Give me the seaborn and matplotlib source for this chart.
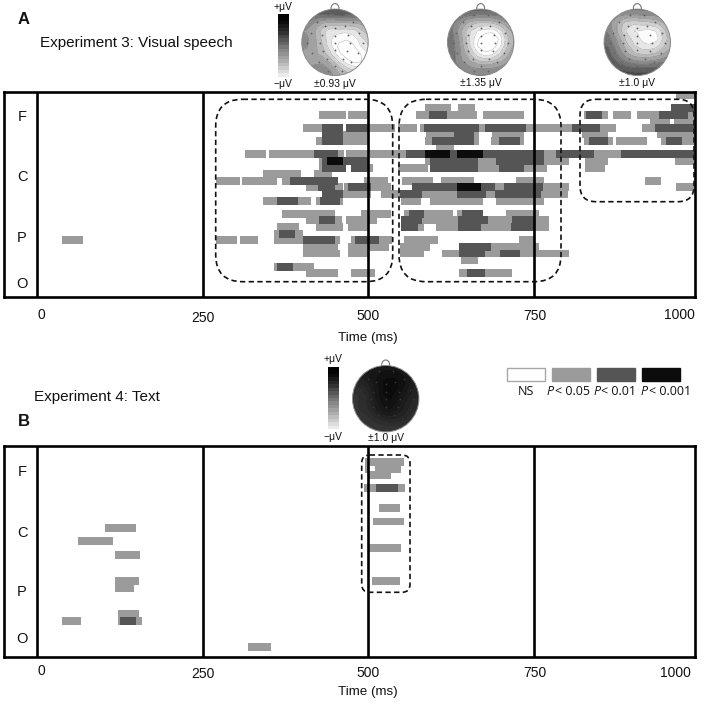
import numpy as np
import matplotlib
matplotlib.use("Agg")
import matplotlib.pyplot as plt
from matplotlib.colors import ListedColormap
from matplotlib.patches import Circle, FancyBboxPatch, Rectangle
import seaborn as sns

# Significant segments per electrode row: (start ms, end ms, significance level)
# Level 1 = P<0.05, 2 = P<0.01, 3 = P<0.001
a_r00 = [(967, 994, 1)]
a_r02 = [(586, 626, 1), (636, 662, 1), (959, 994, 2)]
a_r03 = [(426, 467, 1), (470, 500, 1), (572, 592, 1), (592, 620, 2), (620, 664, 1), (674, 736, 1),
         (826, 830, 1), (830, 853, 2), (853, 863, 1), (870, 897, 1), (907, 940, 1), (940, 984, 2), (984, 994, 1)]
a_r04 = [(926, 956, 1), (962, 994, 1)]
a_r05 = [(401, 429, 1), (429, 463, 2), (465, 500, 2), (500, 540, 1), (547, 574, 1), (578, 584, 1),
         (584, 668, 2), (668, 676, 1), (676, 739, 2), (739, 808, 1), (808, 851, 2), (851, 873, 1),
         (913, 935, 1), (935, 994, 2)]
a_r06 = [(431, 463, 2), (463, 503, 1), (588, 631, 1), (631, 660, 2), (660, 668, 1), (688, 736, 1),
         (824, 863, 1), (936, 994, 1)]
a_r07 = [(421, 431, 1), (431, 463, 2), (463, 503, 1), (586, 596, 1), (596, 660, 2), (660, 668, 1),
         (685, 697, 1), (697, 730, 2), (730, 736, 1), (826, 834, 1), (834, 862, 2), (862, 870, 1),
         (874, 923, 1), (942, 950, 1), (950, 975, 2), (975, 994, 1)]
a_r08 = [(603, 631, 1)]
a_r09 = [(315, 347, 1), (351, 417, 1), (417, 455, 2), (455, 464, 1), (467, 558, 1), (558, 586, 2),
         (586, 624, 3), (624, 634, 2), (634, 674, 3), (674, 767, 2), (767, 784, 1), (784, 841, 2),
         (841, 882, 1), (882, 994, 2)]
a_r10 = [(425, 431, 1), (431, 437, 2), (437, 463, 3), (463, 503, 2), (586, 595, 1), (595, 667, 2),
         (667, 694, 1), (694, 767, 2), (767, 804, 1), (828, 861, 1), (964, 994, 1)]
a_r11 = [(425, 431, 1), (431, 465, 2), (473, 503, 2), (503, 508, 1), (547, 589, 1), (595, 667, 2),
         (667, 697, 1), (697, 736, 2), (736, 770, 1), (828, 858, 1)]
a_r12 = [(343, 398, 1), (419, 447, 1)]
a_r13 = [(271, 305, 1), (309, 363, 1), (370, 383, 1), (383, 453, 2), (493, 531, 1), (552, 599, 1),
         (609, 660, 1), (724, 766, 1), (917, 943, 1)]
a_r14 = [(406, 424, 1), (424, 450, 2), (450, 461, 1), (464, 469, 1), (469, 504, 2), (504, 534, 1),
         (566, 634, 2), (634, 669, 3), (669, 692, 2), (692, 705, 1), (705, 764, 2), (764, 804, 1), (965, 994, 1)]
a_r15 = [(431, 463, 2), (463, 504, 1), (520, 548, 1), (548, 582, 2), (582, 634, 1), (634, 678, 2),
         (678, 692, 1), (692, 762, 2), (762, 801, 1)]
a_r16 = [(343, 361, 1), (361, 395, 2), (395, 415, 1), (421, 428, 1), (428, 457, 2), (457, 463, 1),
         (550, 580, 1), (595, 673, 1), (694, 767, 1)]
a_r18 = [(370, 450, 1), (491, 534, 1), (553, 561, 1), (561, 584, 2), (584, 628, 1), (635, 642, 1),
         (642, 673, 2), (708, 757, 1)]
a_r19 = [(405, 426, 1), (426, 450, 2), (450, 460, 1), (467, 513, 1), (551, 581, 2), (581, 636, 1),
         (636, 682, 2), (682, 717, 1), (717, 750, 2), (750, 773, 1)]
a_r20 = [(361, 396, 1), (423, 463, 1), (469, 500, 1), (551, 576, 2), (576, 584, 1), (603, 636, 1),
         (636, 669, 2), (669, 716, 1), (716, 750, 2), (750, 773, 1)]
a_r21 = [(357, 365, 1), (365, 389, 2), (389, 402, 1)]
a_r22 = [(38, 70, 1), (271, 303, 1), (305, 333, 1), (357, 402, 1), (402, 450, 2), (450, 457, 1),
         (475, 480, 1), (480, 516, 2), (516, 536, 1), (553, 606, 1), (728, 750, 1)]
a_r23 = [(403, 455, 1), (471, 532, 1), (548, 593, 1), (638, 687, 2), (687, 757, 1)]
a_r24 = [(403, 457, 1), (471, 503, 1), (548, 584, 1), (612, 638, 1), (638, 676, 2), (676, 700, 1),
         (700, 730, 2), (730, 804, 1)]
a_r25 = [(640, 666, 1)]
a_r26 = [(357, 363, 1), (363, 387, 2), (387, 417, 1)]
a_r27 = [(405, 453, 1), (473, 509, 1), (638, 650, 1), (650, 676, 2), (676, 718, 1)]
a_row_ids = [0, 2, 3, 4, 5, 6, 7, 8, 9, 10, 11, 12, 13, 14, 15, 16, 18, 19, 20, 21, 22, 23, 24, 25, 26, 27]
a_row_segments = [a_r00, a_r02, a_r03, a_r04, a_r05, a_r06, a_r07, a_r08, a_r09, a_r10, a_r11, a_r12, a_r13,
                  a_r14, a_r15, a_r16, a_r18, a_r19, a_r20, a_r21, a_r22, a_r23, a_r24, a_r25, a_r26, a_r27]

b_row_ids = [2, 3, 4, 6, 9, 11, 12, 14, 15, 16, 20, 21, 25, 26, 30]
b_row_segments = [
    [(496, 553, 1)],
    [(496, 503, 1), (511, 551, 1)],
    [(502, 534, 1)],
    [(494, 512, 1), (512, 547, 2), (547, 556, 1)],
    [(516, 548, 1)],
    [(508, 553, 1)],
    [(102, 151, 1)],
    [(62, 114, 1)],
    [(502, 550, 1)],
    [(118, 156, 1)],
    [(119, 153, 1), (506, 548, 1)],
    [(119, 147, 1)],
    [(122, 153, 1)],
    [(38, 67, 1), (121, 125, 1), (125, 149, 2), (149, 158, 1)],
    [(319, 355, 1)],
]

time_ticks = [0, 250, 500, 750]
tick_labels = ["0", "250", "500", "750", "1000"]
channel_labels = ["F", "C", "P", "O"]
p_labels = ["< 0.05", "< 0.01", "< 0.001"]
level_colors = ["#ffffff", "#9b9b9b", "#555555", "#0c0c0c"]

# Scalp maps, gray value read on a 9x9 grid, top row first
head_1 = [[.30, .30, .30, .30, .30, .30, .30, .30, .30],
          [.42, .48, .55, .50, .45, .45, .50, .55, .58],
          [.60, .62, .72, .88, .90, .86, .84, .72, .62],
          [.58, .58, .74, .90, .92, .84, 1.0, .90, .74],
          [.52, .58, .68, .86, .96, 1.1, 1.0, .90, .80],
          [.58, .62, .68, .80, 1.0, 1.1, 1.1, 1.0, .84],
          [.62, .64, .64, .70, .80, 1.0, 1.1, 1.1, 1.0],
          [.62, .62, .50, .56, .70, .82, .92, 1.0, .92],
          [.55, .55, .50, .50, .60, .65, .72, .74, .74]]
head_2 = [[.35, .35, .35, .35, .35, .35, .35, .35, .35],
          [.42, .48, .54, .60, .62, .62, .58, .54, .48],
          [.46, .58, .72, .88, .88, .88, .82, .68, .58],
          [.42, .56, .74, .90, .96, 1.1, 1.1, .86, .64],
          [.40, .52, .70, .94, 1.1, 1.1, 1.1, .84, .62],
          [.40, .52, .68, .86, 1.1, 1.1, 1.0, .78, .62],
          [.42, .52, .62, .72, .84, .86, .78, .68, .58],
          [.44, .52, .58, .62, .64, .62, .60, .58, .52],
          [.40, .42, .45, .47, .47, .47, .45, .45, .45]]
head_3 = [[.45, .45, .45, .45, .45, .45, .45, .45, .45],
          [.52, .60, .68, .70, .66, .66, .66, .60, .58],
          [.52, .62, .80, .96, .94, .90, .88, .78, .64],
          [.44, .56, .74, .86, .94, .92, 1.1, .90, .68],
          [.40, .50, .66, .78, .92, .96, .96, .86, .68],
          [.36, .46, .60, .76, .80, .84, .84, .78, .64],
          [.33, .42, .52, .62, .70, .70, .66, .60, .56],
          [.30, .35, .38, .42, .42, .42, .42, .42, .42],
          [.28, .28, .28, .28, .28, .28, .28, .28, .28]]
head_4 = [[.12, .12, .12, .12, .12, .12, .12, .12, .12],
          [.14, .14, .12, .09, .08, .08, .09, .12, .14],
          [.17, .16, .13, .09, .07, .07, .08, .12, .15],
          [.21, .21, .15, .10, .07, .07, .09, .13, .17],
          [.21, .21, .17, .10, .07, .08, .12, .15, .17],
          [.21, .21, .17, .12, .08, .09, .13, .17, .19],
          [.21, .21, .19, .15, .12, .12, .15, .17, .21],
          [.23, .23, .23, .21, .19, .19, .19, .21, .21],
          [.23, .23, .23, .23, .23, .23, .23, .23, .23]]
electrode_x = [-.22, .22, -.55, -.3, 0, .3, .55, -.75, -.4, 0, .4, .75, -.85, -.45, 0, .45, .85,
               -.72, -.38, 0, .38, .72, -.5, -.25, .25, .5, -.22, .22, 0]
electrode_y = [-.85, -.85, -.62, -.5, -.45, -.5, -.62, -.28, -.22, -.2, -.22, -.28, .02, .02, .02, .02, .02,
               .32, .26, .24, .26, .32, .6, .5, .5, .6, .88, .88, .72]
scale_bar_grays = [.0, .02, .05, .1, .15, .2, .28, .34, .4, .47, .53, .58, .63, .68, .74, .8, .86, .92]

FIG_W, FIG_H = 709, 704
T_START, T_END, BIN_MS = -50, 994, 2
ROW_COUNT_A, ROW_COUNT_B = 31, 32
SUB_ROWS = 10  # heatmap cells per electrode row, bars spill a bit over their row


def build_matrix(row_ids, row_segments, n_rows):
    n_cols = (T_END - T_START) // BIN_MS
    matrix = np.zeros((n_rows * SUB_ROWS, n_cols))
    for row, segments in zip(row_ids, row_segments):
        r0 = max(row * SUB_ROWS - 1, 0)
        r1 = (row + 1) * SUB_ROWS + 1
        for start, end, level in segments:
            c0 = int(round((start - T_START) / BIN_MS))
            c1 = int(round((end - T_START) / BIN_MS))
            matrix[r0:r1, c0:c1] = np.maximum(matrix[r0:r1, c0:c1], level)
    return matrix


def add_panel(fig, left, right, top, bottom, matrix):
    ax = fig.add_axes([left / FIG_W, 1 - bottom / FIG_H, (right - left) / FIG_W, (bottom - top) / FIG_H])
    sns.heatmap(matrix, ax=ax, cmap=ListedColormap(level_colors), vmin=0, vmax=3, cbar=False,
                xticklabels=False, yticklabels=False, rasterized=True)
    for spine in ax.spines.values():
        spine.set_visible(True)
        spine.set_linewidth(1.9)
        spine.set_color("black")
    for t in time_ticks:
        ax.axvline((t - T_START) / BIN_MS, color="black", lw=1.9)
    return ax


def smooth_grid(grid, factor=5):
    # Soften the coarse grid so the contours bend like the scalp maps do
    fine = np.kron(np.array(grid), np.ones((factor, factor)))
    size = factor * 2 + 1
    kernel = np.ones(size) / size
    pad = np.pad(fine, factor, mode="edge")
    pad = np.apply_along_axis(lambda v: np.convolve(v, kernel, mode="same"), 0, pad)
    pad = np.apply_along_axis(lambda v: np.convolve(v, kernel, mode="same"), 1, pad)
    return pad[factor:-factor, factor:-factor]


def draw_head(ax, cx, cy, grid, n_levels=13, line_alpha=0.35):
    radius = 33.2
    fine = smooth_grid(grid)
    gy, gx = np.mgrid[-1:1:fine.shape[0] * 1j, -1:1:fine.shape[1] * 1j]
    xx = cx + gx * radius * 1.05
    yy = cy + gy * radius * 1.05
    clip = Circle((cx, cy), radius, transform=ax.transData)
    levels = np.linspace(0, 1, n_levels)
    filled = ax.contourf(xx, yy, fine, levels=levels, cmap="gray", vmin=0.03, vmax=0.97, extend="both")
    lines = ax.contour(xx, yy, fine, levels=levels[::(n_levels - 1) // 12], colors="#222222",
                       linewidths=0.35, alpha=line_alpha)
    filled.set_clip_path(clip)
    lines.set_clip_path(clip)
    ax.add_patch(Circle((cx, cy), radius, fc="none", ec="#8a8a8a", lw=0.7))
    nose = np.linspace(0, np.pi, 30)
    ax.plot(cx + 4 * np.cos(nose), cy - radius - 0.5 - 5 * np.sin(nose), color="#777777", lw=0.8)
    dots = ax.scatter(cx + np.array(electrode_x) * radius * 0.98, cy + np.array(electrode_y) * radius * 0.98,
                      s=1.8, color="#666666" if np.mean(grid) > .3 else "#333333", linewidths=0)
    dots.set_clip_path(clip)


def draw_scale_bar(ax, x0, x1, y0, y1):
    bands = np.array(scale_bar_grays).reshape(-1, 1)
    ax.imshow(bands, cmap="gray", vmin=0, vmax=1, extent=(x0, x1, y1, y0), aspect="auto", interpolation="nearest")


def dashed_box(ax, x0, x1, y0, y1, rounding):
    ax.add_patch(FancyBboxPatch((x0, y0), x1 - x0, y1 - y0, boxstyle=f"round,pad=0,rounding_size={rounding}",
                                fc="none", ec="#111111", lw=1.2, linestyle=(0, (3.2, 2.0))))


def generate_figure():
    sns.set_style("white")
    plt.rcParams["font.family"] = ["Liberation Sans", "DejaVu Sans"]

    fig = plt.figure(figsize=(FIG_W / 100, FIG_H / 100), dpi=100)
    add_panel(fig, 4, 695, 91.5, 296.5, build_matrix(a_row_ids, a_row_segments, ROW_COUNT_A))
    add_panel(fig, 4, 695, 445.5, 657, build_matrix(b_row_ids, b_row_segments, ROW_COUNT_B))

    # Overlay in reference pixels for everything around the panels
    over = fig.add_axes([0, 0, 1, 1])
    over.patch.set_visible(False)

    dashed_box(over, 215.7, 392.7, 99.3, 281.7, 27)
    dashed_box(over, 399, 561, 99.3, 281.7, 27)
    dashed_box(over, 580, 694, 99.3, 201.7, 16)
    dashed_box(over, 361.7, 410, 455, 592.3, 8)

    draw_scale_bar(over, 277.7, 288.3, 14, 76.7)
    draw_scale_bar(over, 328.3, 339, 367.3, 429.3)
    draw_head(over, 335, 42.3, head_1)
    draw_head(over, 480.7, 42.3, head_2)
    draw_head(over, 637.3, 42.3, head_3)
    draw_head(over, 385.7, 398.7, head_4, n_levels=49, line_alpha=0.2)

    over.set_xlim(0, FIG_W)
    over.set_ylim(FIG_H, 0)
    over.axis("off")

    def label(x, y, s, size=10, **kw):
        kw.setdefault("ha", "center")
        over.text(x, y, s, fontsize=size, va="center", color="#111111", **kw)

    label(24, 19, "A", 12, fontweight="bold")
    label(24, 422, "B", 12, fontweight="bold")
    label(40, 43, "Experiment 3: Visual speech", 11, ha="left")
    label(34, 397, "Experiment 4: Text", 11, ha="left")

    for s, y in zip(channel_labels, [117, 177, 238, 284]):
        label(22, y, s, 10.5)
    for s, y in zip(channel_labels, [472, 533, 592, 639]):
        label(22, y, s, 10.5)
    for s, x, y in zip(tick_labels, [41, 203, 368, 535, 679], [315, 318, 316, 316, 315]):
        label(x, y, s)
    for s, x, y in zip(tick_labels, [41, 203, 368, 535, 675], [671, 674, 673, 673, 673]):
        label(x, y, s)
    label(368, 338, "Time (ms)", 9.6)
    label(368, 692, "Time (ms)", 9.6)

    label(283, 7, "+μV", 7.5)
    label(283, 84, "−μV", 7.5)
    label(333, 359.5, "+μV", 7.5)
    label(333, 437, "−μV", 7.5)
    label(335, 84, "±0.93 μV", 7.5)
    label(481, 83, "±1.35 μV", 7.5)
    label(637, 83, "±1.0 μV", 7.5)
    label(385.7, 438, "±1.0 μV", 7.5)

    # Legend swatches for the significance levels
    for x0, x1, color in zip([507.3, 552, 597, 642], [544.7, 590, 634.7, 679.7], level_colors):
        edge = "#a8a8a8" if color == "#ffffff" else color
        over.add_patch(Rectangle((x0, 368), x1 - x0, 12.7, fc=color, ec=edge, lw=1))
    label(526, 391.3, "NS", 9, family=["Open Sans", "DejaVu Sans"])
    for s, px, tx in zip(p_labels, [546.7, 593, 640.7], [555, 601, 649]):
        label(px, 391.3, "P", 9, family=["Open Sans", "DejaVu Sans"], style="italic", ha="left")
        label(tx, 391.3, s, 9, family=["Open Sans", "DejaVu Sans"], ha="left")

    fig.savefig("out.png", dpi=100)
    plt.close(fig)


if __name__ == "__main__":
    generate_figure()
